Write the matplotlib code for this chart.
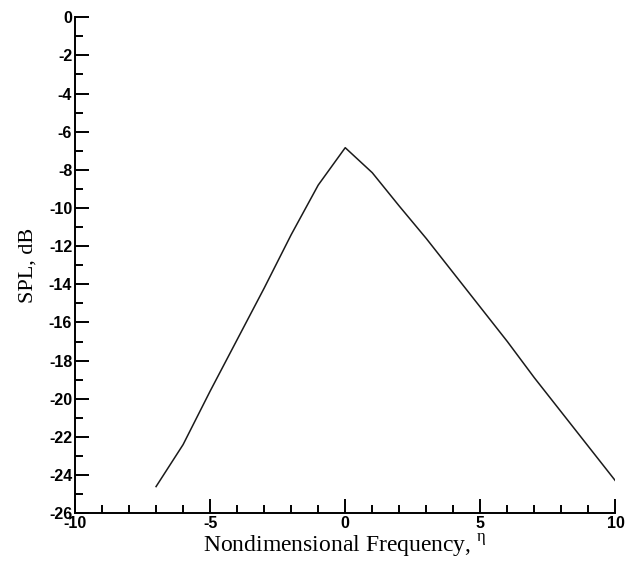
import matplotlib
matplotlib.use("Agg")
import matplotlib.pyplot as plt
from matplotlib.ticker import MultipleLocator

plt.rcParams['axes.unicode_minus'] = False

# spectrum
eta = [-7, -6, -5, -4, -3, -2, -1, 0, 1, 2, 3, 4, 5, 6, 7, 8, 9, 10]
spl = [-24.6, -22.4, -19.6, -16.9, -14.2, -11.4, -8.8, -6.84, -8.15,
       -9.9, -11.6, -13.4, -15.2, -17.0, -18.9, -20.7, -22.5, -24.3]

fig = plt.figure(figsize=(6.27, 5.67), dpi=100)
ax = fig.add_axes([0.1196, 0.0947, 0.862, 0.875])

ax.plot(eta, spl, color='#1a1a1a', linewidth=1.1)

ax.set_xlim(-10, 10)
ax.set_ylim(-26, 0)
ax.xaxis.set_major_locator(MultipleLocator(5))
ax.xaxis.set_minor_locator(MultipleLocator(1))
ax.yaxis.set_major_locator(MultipleLocator(2))
ax.yaxis.set_minor_locator(MultipleLocator(1))

for s in ['top', 'right']:
    ax.spines[s].set_visible(False)
for s in ['left', 'bottom']:
    ax.spines[s].set_linewidth(1.4)

ax.tick_params(which='major', direction='in', length=10, width=1.4,
               labelsize=11.5, pad=2)
ax.tick_params(which='minor', direction='in', length=5.5, width=1.4)
for lab in ax.get_xticklabels() + ax.get_yticklabels():
    lab.set_family('Liberation Sans')
    lab.set_fontweight('bold')

ax.set_xlabel('Nondimensional Frequency, $^{\\mathregular{η}}$',
              family='Liberation Serif', fontsize=17, labelpad=1)
ax.set_ylabel('SPL, dB', family='Liberation Serif', fontsize=16, labelpad=8)

fig.savefig('out.png', dpi=100)
